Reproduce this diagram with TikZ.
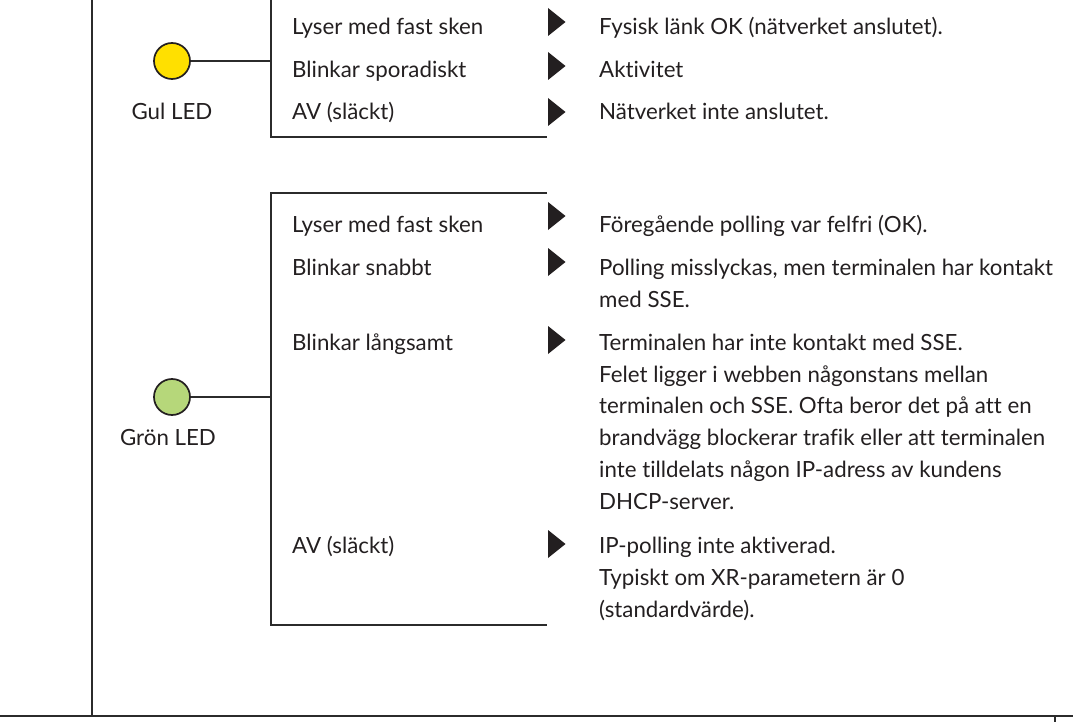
\documentclass[tikz,border=0pt]{standalone}
\usepackage{fontspec}
\setmainfont[RawFeature={-liga;-clig;-calt;-dlig}]{Lato}
\definecolor{txt}{HTML}{231F20}
\definecolor{ln}{HTML}{2B2B2B}
\definecolor{ledyellow}{HTML}{FFE000}
\definecolor{ledgreen}{HTML}{B6D77A}
\begin{document}
\begin{tikzpicture}[x=1pt,y=-1pt,
  lbl/.style={anchor=base west, inner sep=0pt, text=txt, font=\fontsize{22.3}{22.3}\selectfont},
  ledlbl/.style={lbl, anchor=base},
  led/.style={circle, draw=txt, line width=1.7pt, minimum size=36pt, inner sep=0pt},
  bracket/.style={draw=ln, line width=2.8pt},
  conn/.style={draw=ln, line width=2.4pt},
  thin/.style={draw=ln, line width=1.4pt},
  base/.style={draw=ln, line width=2.2pt},
  tri/.pic={\fill[txt] (0,-14) -- (17.5,0) -- (0,14) -- cycle;}
]
\useasboundingbox (0,0) rectangle (1073,722);
% frame lines
\coordinate (ltop) at (92,-2);
\coordinate (lbot) at (92,716);
\coordinate (bl) at (-2,716);
\coordinate (br) at (1075,716);
\coordinate (ttop) at (1055,716);
\coordinate (tbot) at (1055,724);
\draw[thin] (ltop) -- (lbot);
\draw[base] (bl) -- (br);
\draw[thin] (ttop) -- (tbot);

% ---------- yellow LED ----------
\node[led, fill=ledyellow] (yled) at (172,61) {};
\node[ledlbl] (ylbl) at (172,120) {Gul LED};
\coordinate (ybr) at (271,61);
\coordinate (ybrtop) at (271,-5);
\coordinate (ybrbot) at (271,137);
\coordinate (ybrend) at (547,137);
\draw[bracket] (ybrtop) -- (ybrbot) -- (ybrend);
\draw[conn] (yled.east) -- (ybr);

\node[lbl] (y1) at (292,35) {Lyser med fast sken};
\node[lbl] (y2) at (292,78) {Blinkar sporadiskt};
\node[lbl] (y3) at (292,120) {AV (släckt)};
\pic at (548,22) {tri};
\pic at (548,66) {tri};
\pic at (548,112) {tri};
\node[lbl] (yd1) at (599,35) {Fysisk länk OK (nätverket anslutet).};
\node[lbl] (yd2) at (599,78) {Aktivitet};
\node[lbl] (yd3) at (599,120) {Nätverket inte anslutet.};

% ---------- green LED ----------
\node[led, fill=ledgreen] (gled) at (172,397) {};
\node[ledlbl] (glbl) at (168,445) {Grön LED};
\coordinate (gbr) at (271,397);
\coordinate (gtopend) at (547,193);
\coordinate (gtop) at (271,193);
\coordinate (gbot) at (271,625);
\coordinate (gbotend) at (547,625);
\draw[bracket] (gtopend) -- (gtop) -- (gbot) -- (gbotend);
\draw[conn] (gled.east) -- (gbr);

\node[lbl] (g1) at (292,233) {Lyser med fast sken};
\node[lbl] (g2) at (292,275) {Blinkar snabbt};
\node[lbl] (g3) at (292,350) {Blinkar långsamt};
\node[lbl] (g4) at (292,553) {AV (släckt)};
\pic at (548,216) {tri};
\pic at (548,262) {tri};
\pic at (548,340) {tri};
\pic at (548,544) {tri};

\node[lbl] (gd1) at (599,233) {Föregående polling var felfri (OK).};
\node[lbl] (gd2a) at (599,275) {Polling misslyckas, men terminalen har kontakt};
\node[lbl] (gd2b) at (599,307) {med SSE.};
\node[lbl] (gd3a) at (599,350) {Terminalen har inte kontakt med SSE.};
\node[lbl] (gd3b) at (599,382) {Felet ligger i webben någonstans mellan};
\node[lbl] (gd3c) at (599,413) {terminalen och SSE. Ofta beror det på att en};
\node[lbl] (gd3d) at (599,445) {brandvägg blockerar trafik eller att terminalen};
\node[lbl] (gd3e) at (599,477) {inte tilldelats någon IP-adress av kundens};
\node[lbl] (gd3f) at (599,509) {DHCP-server.};
\node[lbl] (gd4a) at (599,553) {IP-polling inte aktiverad.};
\node[lbl] (gd4b) at (599,585) {Typiskt om XR-parametern är 0};
\node[lbl] (gd4c) at (599,617) {(standardvärde).};
\end{tikzpicture}
\end{document}
